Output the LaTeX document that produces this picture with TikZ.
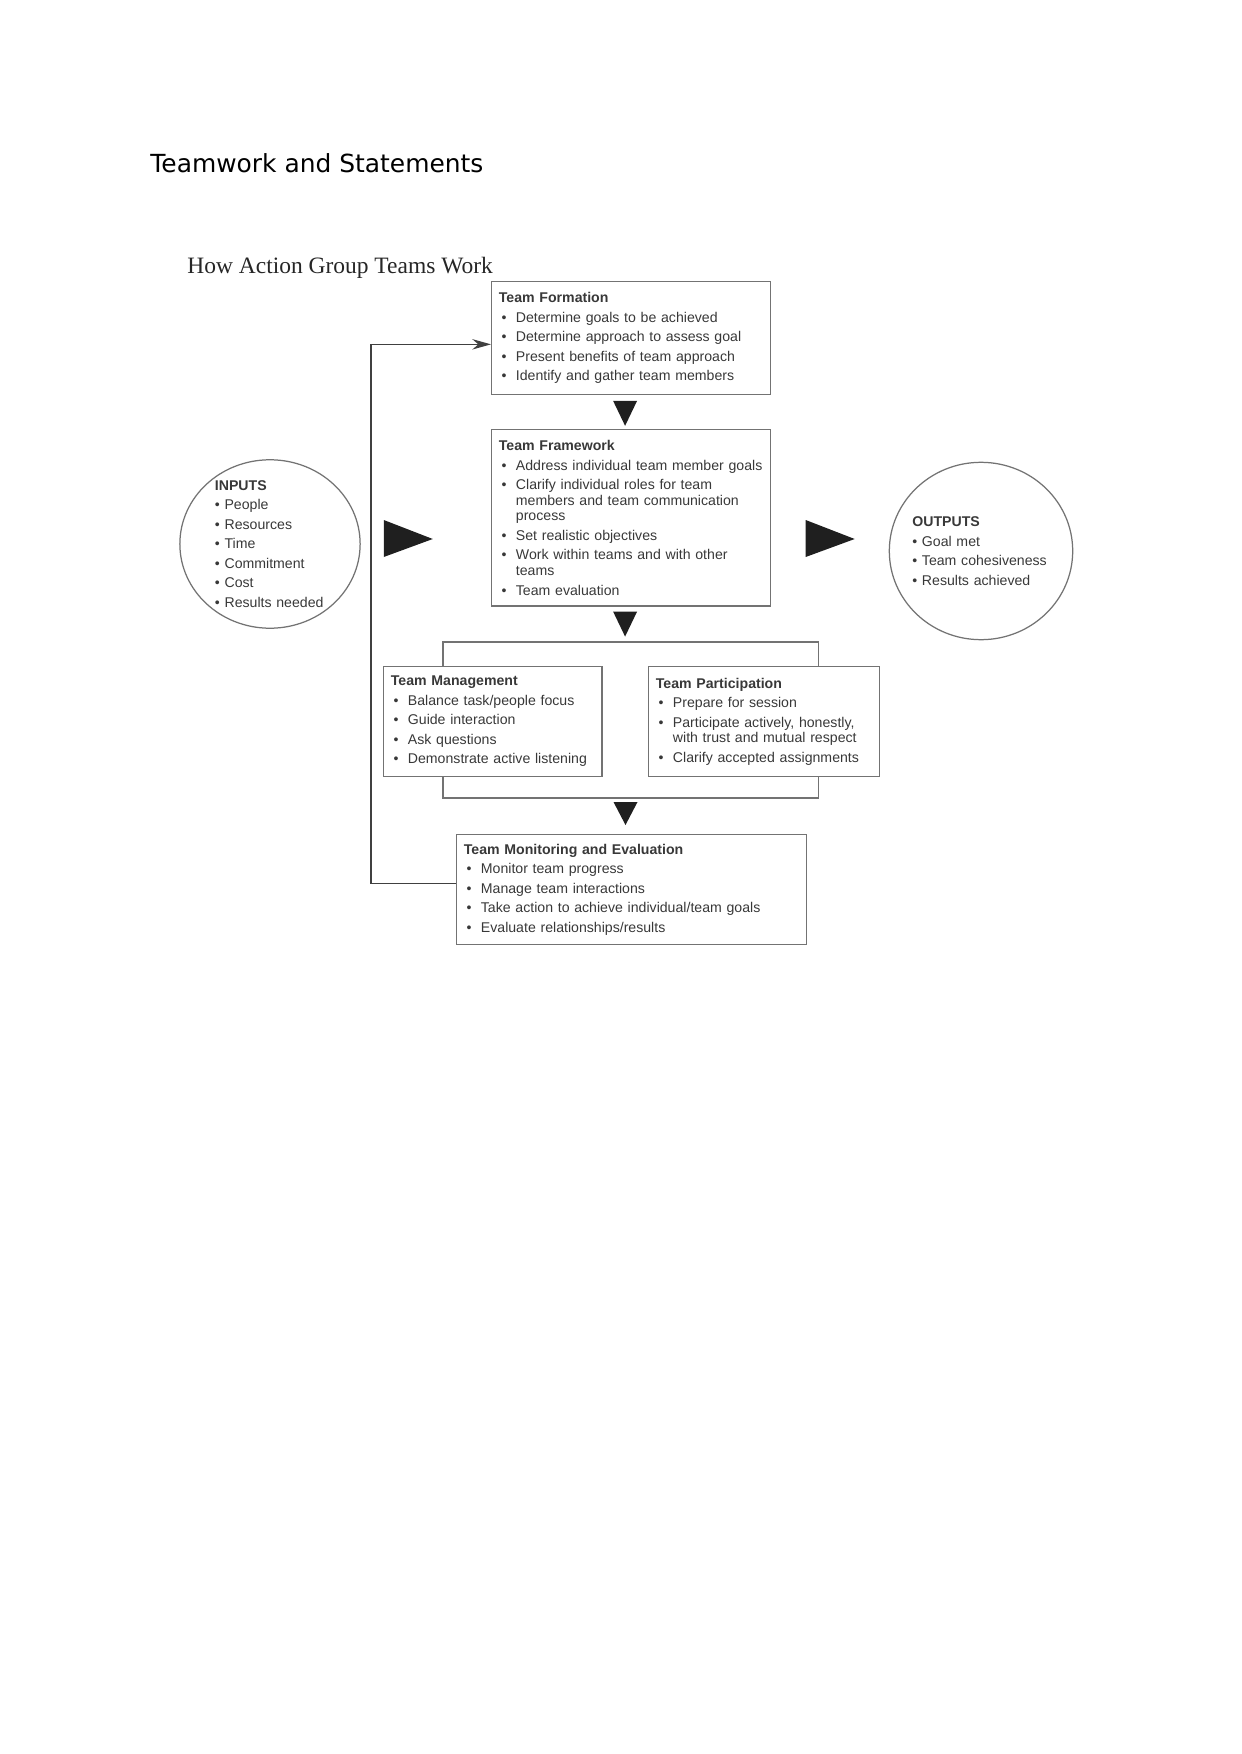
\documentclass[tikz,border=0pt]{standalone}
\usepackage{fontspec}
\usetikzlibrary{positioning, arrows.meta, shapes.geometric}

\newfontfamily\sansbox{Liberation Sans}
\newfontfamily\pagehead{DejaVu Sans}
\newfontfamily\serifhead{Liberation Serif}
\setlength{\parindent}{0pt}
\hyphenpenalty=10000
\exhyphenpenalty=10000

% bullet line inside a box, and inside a ring
\newcommand{\bul}{\par\vskip1.9pt\hangindent=8.2pt\noindent\makebox[8.2pt][l]{\hspace{1.3pt}\textbullet}}
\newcommand{\cbul}{\par\vskip1.9pt\noindent\textbullet\ }

\begin{document}
\begin{tikzpicture}[
  x=0.016922cm, y=-0.016922cm,
  >=Stealth,
  stage/.style={draw=black!55, line width=0.6pt, anchor=north west, align=left,
    inner xsep=3.5pt, inner ysep=2pt, text=black!78,
    font=\sansbox\fontsize{6.8}{7.5}\selectfont},
  ring/.style={ellipse, draw=black!55, line width=0.6pt, inner sep=0pt},
  ringtext/.style={align=left, inner sep=0pt, text=black!78,
    font=\sansbox\fontsize{6.8}{7.5}\selectfont},
  link/.style={draw=black!55, line width=0.6pt},
  loopback/.style={->, draw=black!75, line width=0.6pt},
  tri/.style={fill=black!88}
]
\useasboundingbox (0,0) rectangle (1241,1754);

% --- Titles ---
\node[anchor=base west, inner sep=0pt, font=\pagehead\fontsize{12}{14}\selectfont] (page title) at (150,173) {Teamwork and Statements};
\node[anchor=base west, inner sep=0pt, text=black!85, font=\serifhead\fontsize{11.3}{13}\selectfont] (chart title) at (187,274) {How Action Group Teams Work};

% --- Nodes ---
\node[stage, text width=127.3pt, minimum height=54.2pt] (form) at (491,281) {%
  \textbf{Team Formation}
  \bul Determine goals to be achieved
  \bul Determine approach to assess goal
  \bul Present benefits of team approach
  \bul Identify and gather team members};

\node[stage, text width=127.3pt, minimum height=84.9pt] (frame) at (491,429) {%
  \textbf{Team Framework}
  \bul Address individual team member goals
  \bul Clarify individual roles for team members and team communication process
  \bul Set realistic objectives
  \bul Work within teams and with other teams
  \bul Team evaluation};

\node[stage, text width=98.1pt, minimum height=52.8pt] (mgmt) at (383,666) {%
  \textbf{Team Management}
  \bul Balance task/people focus
  \bul Guide interaction
  \bul Ask questions
  \bul Demonstrate active listening};

\node[stage, text width=104.3pt, minimum height=52.8pt] (part) at (648,666) {%
  \textbf{Team Participation}
  \bul Prepare for session
  \bul Participate actively, honestly, with trust and mutual respect
  \bul Clarify accepted assignments};

\node[stage, text width=161.4pt, minimum height=52.8pt] (mon) at (456,834) {%
  \textbf{Team Monitoring and Evaluation}
  \bul Monitor team progress
  \bul Manage team interactions
  \bul Take action to achieve individual/team goals
  \bul Evaluate relationships/results};

% rings with their lists
\node[ring, minimum width=86.8pt, minimum height=81.1pt] (inputs) at (270,544) {};
\node[ringtext, text width=54pt] (inputs list) at (271,544) {%
  \textbf{INPUTS}
  \cbul People
  \cbul Resources
  \cbul Time
  \cbul Commitment
  \cbul Cost
  \cbul Results needed};

\node[ring, minimum width=88.3pt, minimum height=85.4pt] (outputs) at (981,551) {};
\node[ringtext, text width=70pt] (outputs list) at (985,551) {%
  \textbf{OUTPUTS}
  \cbul Goal met
  \cbul Team cohesiveness
  \cbul Results achieved};

% --- Edges ---
% bracket joining the two middle boxes
\draw[link] (mgmt.north west) ++(60,0) -- ++(0,-24) -| ([xshift=-29.7pt]part.north east);
\draw[link] (mgmt.south west) ++(60,0) -- ++(0,21) -| ([xshift=-29.7pt]part.south east);

% feedback from monitoring back to formation
\draw[loopback, -{Stealth[length=9pt, width=5pt]}] ([yshift=2.9pt]mon.west) -- ++(-85,0) |- ([yshift=-3.1pt]form.west);

% solid arrow heads
\fill[tri] (form.south) ++(-18,6) -- ++(24,0) -- ++(-12,25) -- cycle;
\fill[tri] (frame.south) ++(-18,5) -- ++(24,0) -- ++(-12,25) -- cycle;
\fill[tri] (mon.north) ++(-18,-32) -- ++(24,0) -- ++(-12,23) -- cycle;
\fill[tri] (inputs.east) ++(23,-24) -- ++(0,37) -- ++(49,-18) -- cycle;
\fill[tri] (outputs.west) ++(-83,-31) -- ++(0,37) -- ++(49,-18) -- cycle;

\end{tikzpicture}
\end{document}
